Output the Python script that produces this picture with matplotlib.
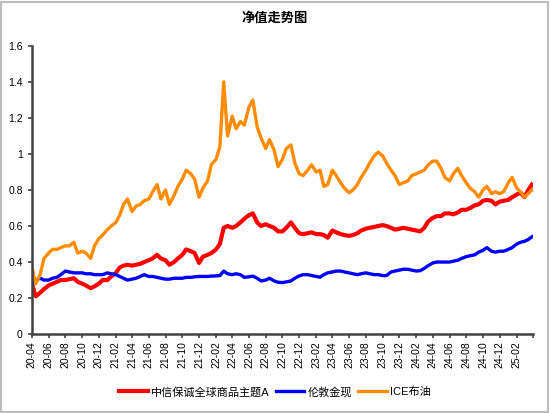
import matplotlib
matplotlib.use("Agg")
import matplotlib.pyplot as plt
import matplotlib.dates as mdates
from matplotlib.patches import Rectangle
from matplotlib.ticker import FuncFormatter
import pandas as pd

plt.rcParams["font.family"] = ["Liberation Sans", "Noto Sans CJK SC"]

# semi-monthly sampling of the three net-value curves
dates = list(pd.date_range("2020-04-01", "2025-03-15", freq="SMS")) + [pd.Timestamp("2025-03-28")]

fund = [
    0.28, 0.21, 0.23, 0.25, 0.27, 0.28, 0.29, 0.30, 0.30, 0.305,
    0.31, 0.29, 0.28, 0.27, 0.255, 0.265, 0.28, 0.30, 0.30, 0.32,
    0.34, 0.37, 0.38, 0.385, 0.38, 0.385, 0.39, 0.40, 0.41, 0.42,
    0.44, 0.42, 0.41, 0.385, 0.40, 0.42, 0.44, 0.47, 0.46, 0.45,
    0.395, 0.43, 0.44, 0.45, 0.47, 0.50, 0.59, 0.60, 0.59, 0.60,
    0.62, 0.64, 0.66, 0.67, 0.62, 0.60, 0.61, 0.60, 0.59, 0.57,
    0.57, 0.59, 0.62, 0.59, 0.56, 0.555, 0.56, 0.565, 0.555, 0.555,
    0.55, 0.535, 0.575, 0.565, 0.555, 0.55, 0.545, 0.55, 0.56, 0.575,
    0.585, 0.59, 0.595, 0.60, 0.605, 0.60, 0.59, 0.58, 0.585, 0.59,
    0.585, 0.58, 0.575, 0.57, 0.59, 0.625, 0.645, 0.655, 0.655, 0.67,
    0.67, 0.665, 0.675, 0.69, 0.69, 0.70, 0.715, 0.72, 0.74, 0.745,
    0.74, 0.72, 0.735, 0.74, 0.745, 0.76, 0.775, 0.785, 0.76, 0.80,
    0.83,
]

gold = [
    0.28, 0.30, 0.31, 0.30, 0.30, 0.31, 0.315, 0.33, 0.35, 0.345,
    0.34, 0.34, 0.34, 0.335, 0.335, 0.33, 0.33, 0.33, 0.34, 0.335,
    0.33, 0.32, 0.31, 0.30, 0.305, 0.31, 0.32, 0.33, 0.32, 0.32,
    0.315, 0.31, 0.305, 0.305, 0.31, 0.31, 0.31, 0.315, 0.315, 0.318,
    0.32, 0.32, 0.32, 0.322, 0.323, 0.325, 0.35, 0.335, 0.33, 0.335,
    0.33, 0.315, 0.318, 0.322, 0.31, 0.295, 0.30, 0.31, 0.295, 0.288,
    0.286, 0.29, 0.295, 0.31, 0.323, 0.33, 0.33, 0.325, 0.32, 0.316,
    0.33, 0.34, 0.345, 0.35, 0.35, 0.345, 0.34, 0.335, 0.33, 0.335,
    0.34, 0.335, 0.33, 0.33, 0.325, 0.325, 0.345, 0.35, 0.355, 0.36,
    0.36, 0.355, 0.35, 0.352, 0.365, 0.38, 0.395, 0.40, 0.40, 0.40,
    0.40, 0.405, 0.41, 0.42, 0.43, 0.435, 0.44, 0.455, 0.465, 0.48,
    0.46, 0.455, 0.46, 0.46, 0.47, 0.48, 0.50, 0.51, 0.515, 0.525,
    0.54,
]

brent = [
    0.37, 0.28, 0.33, 0.42, 0.45, 0.47, 0.47, 0.48, 0.49, 0.49,
    0.51, 0.45, 0.46, 0.45, 0.42, 0.49, 0.53, 0.55, 0.58, 0.60,
    0.62, 0.66, 0.72, 0.75, 0.68, 0.71, 0.72, 0.74, 0.75, 0.79,
    0.83, 0.75, 0.80, 0.72, 0.77, 0.82, 0.86, 0.91, 0.89, 0.86,
    0.76, 0.81, 0.85, 0.94, 0.97, 1.04, 1.40, 1.10, 1.21, 1.14,
    1.18, 1.16, 1.26, 1.30, 1.15, 1.09, 1.03, 1.08, 1.02, 0.93,
    0.97, 1.03, 1.05, 0.95, 0.89, 0.88, 0.91, 0.94, 0.90, 0.91,
    0.82, 0.83, 0.91, 0.88, 0.84, 0.81, 0.785, 0.80, 0.83, 0.87,
    0.91, 0.95, 0.99, 1.01, 0.99, 0.95, 0.91, 0.88, 0.83, 0.84,
    0.85, 0.88, 0.89, 0.90, 0.91, 0.94, 0.96, 0.96, 0.92, 0.87,
    0.85, 0.89, 0.92, 0.88, 0.84, 0.81, 0.79, 0.76, 0.80, 0.82,
    0.78, 0.79, 0.78, 0.79, 0.84, 0.87, 0.81, 0.79, 0.76, 0.78,
    0.80,
]

series_names = ["中信保诚全球商品主题A", "伦敦金现", "ICE布油"]
series_colors = ["#ff0000", "#0000ff", "#ff8c00"]

fig = plt.figure(figsize=(5.5, 4.13), dpi=100)
ax = fig.add_axes([0.058, 0.191, 0.911, 0.698])

for vals, name, col, lw in zip([fund, gold, brent], series_names, series_colors, [3.0, 2.4, 2.4]):
    ax.plot(dates, vals, color=col, lw=lw, label=name, solid_joinstyle="round")

ax.set_ylim(0, 1.6)
ax.set_yticks([0, 0.2, 0.4, 0.6, 0.8, 1.0, 1.2, 1.4, 1.6])
ax.yaxis.set_major_formatter(FuncFormatter(lambda v, p: f"{v:g}"))

ticks = list(pd.date_range("2020-04-01", "2025-04-01", freq="2MS"))
ax.set_xlim(ticks[0], ticks[-1])
ax.set_xticks(ticks)
ax.set_xticklabels([t.strftime("%y-%m") for t in ticks[:-1]] + [""], rotation=90)

for side in ["top", "right"]:
    ax.spines[side].set_visible(False)
for side in ["left", "bottom"]:
    ax.spines[side].set_color("#404040")
    ax.spines[side].set_linewidth(1.8)
ax.tick_params(axis="both", colors="#404040", labelcolor="black", labelsize=7.5,
               width=1.2, length=3, direction="out")
ax.tick_params(axis="x", pad=2)

fig.text(0.5, 0.956, "净值走势图", ha="center", va="center", fontsize=9.5, fontweight="bold")

fig.legend(loc="center", bbox_to_anchor=(0.5, 0.051), ncol=3, frameon=False, fontsize=8,
           handlelength=2.6, handletextpad=0.3, columnspacing=0.5)

fig.patches.append(Rectangle((0.002, 0.003), 0.994, 0.993, transform=fig.transFigure,
                             fill=False, edgecolor="#bdbdbd", linewidth=1.5))

fig.savefig("out.png", dpi=100)
